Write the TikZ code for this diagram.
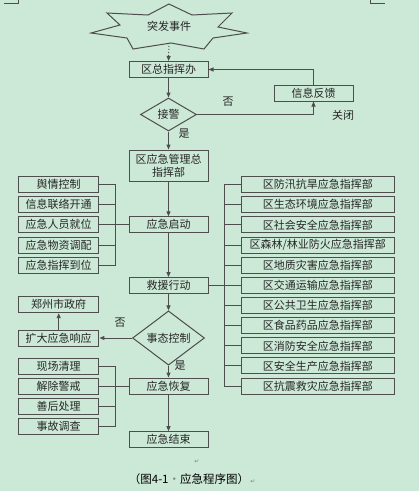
\documentclass[tikz,border=0pt]{standalone}
\usepackage{fontspec}
\setmainfont{Noto Sans CJK SC}
\newfontfamily\symfont{DejaVu Sans}
\usetikzlibrary{shapes.geometric,arrows.meta}
\definecolor{bg}{RGB}{204,232,214}
\definecolor{lc}{RGB}{78,78,78}
\begin{document}
\begin{tikzpicture}[x=1pt,y=-1pt,
  txt/.style={font=\fontsize{11}{13}\selectfont, text=black!85},
  box/.style={txt, draw=lc, line width=1pt, inner sep=0pt, minimum height=16pt},
  cbox/.style={box, minimum width=79pt},
  lbox/.style={box, minimum width=80.5pt},
  rbox/.style={box, minimum width=153pt},
  dia/.style={txt, draw=lc, line width=1pt, diamond, inner sep=0pt},
  conn/.style={draw=lc, line width=1pt},
  arr/.style={conn, -{Triangle[length=5pt,width=4pt]}},
  lab/.style={txt}
]
\useasboundingbox (0,0) rectangle (419,491);
\fill[bg] (0,0) rectangle (419,491);
% corner marks
\draw[lc, line width=0.6pt] (4,3) -- (18,3) -- (18,0);
\draw[lc, line width=0.6pt] (370,0) -- (370,3) -- (385,3);

% star
\draw[lc, line width=1pt] (169,4) -- (192,15) -- (232,13) -- (218,27) -- (247,33) -- (213,38) -- (204,49) -- (171,43) -- (133,49) -- (127,38) -- (91,33) -- (120,25) -- (107,13) -- (148,15) -- cycle;
\node[txt] (ev) at (169,26) {突发事件};
\coordinate (starb) at (169,43);

% central column
\node[cbox] (zb) at (168.5,69.5) {区总指挥办};
\node[dia, minimum width=56pt, minimum height=33pt] (jj) at (168.5,114.5) {接警};
\node[cbox, minimum width=79pt] (fk) at (313.5,93) {信息反馈};
\node[cbox, minimum height=31pt, align=center] (zhb) at (168.5,165.5) {区应急管理总\\指挥部};
\node[cbox] (qd) at (168.5,224.8) {应急启动};
\node[cbox] (jy) at (168.5,285.6) {救援行动};
\node[dia, minimum width=72pt, minimum height=34pt] (sk) at (168.5,338) {事态控制};
\node[cbox] (hf) at (168.5,386) {应急恢复};
\node[cbox] (js) at (168.5,439.7) {应急结束};

% left boxes (start)
\node[lbox] (L1) at (58.7,184.5) {舆情控制};
\node[lbox] (L2) at (58.7,204.6) {信息联络开通};
\node[lbox] (L3) at (58.7,224.8) {应急人员就位};
\node[lbox] (L4) at (58.7,245.1) {应急物资调配};
\node[lbox] (L5) at (58.7,265.5) {应急指挥到位};
\node[lbox] (zz) at (58.7,304.7) {郑州市政府};
\node[lbox] (kd) at (58.7,338) {扩大应急响应};
\node[lbox] (M1) at (58.7,366) {现场清理};
\node[lbox] (M2) at (58.7,386) {解除警戒};
\node[lbox] (M3) at (58.7,406) {善后处理};
\node[lbox] (M4) at (58.7,426) {事故调查};

% right boxes
\node[rbox] (R1) at (317.8,184.3) {区防汛抗旱应急指挥部};
\node[rbox] (R2) at (317.8,204.5) {区生态环境应急指挥部};
\node[rbox] (R3) at (317.8,224.8) {区社会安全应急指挥部};
\node[rbox] (R4) at (317.8,245.0) {区森林/林业防火应急指挥部};
\node[rbox] (R5) at (317.8,265.3) {区地质灾害应急指挥部};
\node[rbox] (R6) at (317.8,285.6) {区交通运输应急指挥部};
\node[rbox] (R7) at (317.8,305.5) {区公共卫生应急指挥部};
\node[rbox] (R8) at (317.8,325.7) {区食品药品应急指挥部};
\node[rbox] (R9) at (317.8,345.8) {区消防安全应急指挥部};
\node[rbox] (R10) at (317.8,365.8) {区安全生产应急指挥部};
\node[rbox] (R11) at (317.8,386) {区抗震救灾应急指挥部};

% labels
\node[lab] (n1) at (228,102) {否};
\node[lab] (c1) at (343,115) {关闭};
\node[lab] (y1) at (184,134) {是};
\node[lab] (n2) at (120,322.7) {否};
\node[lab] (y2) at (180,365.7) {是};

% connectors
\draw[arr, dotted] (starb) -- (zb.north);
\draw[arr] (zb) -- (jj);
\draw[arr] (jj.east) -| (fk.south);
\draw[arr] (fk.north) |- (zb.east);
\draw[arr] (jj) -- (zhb);
\draw[arr] (zhb) -- (qd);
\draw[arr] (qd) -- (jy);
\draw[arr] (jy) -- (sk);
\draw[arr] (sk.west) -- (kd.east);
\draw[arr] (kd) -- (zz);
\draw[arr] (sk) -- (hf);
\draw[arr] (hf) -- (js);

% left bracket (start)
\coordinate (lt) at (115.7,224.8);
\foreach \n in {L1,L2,L3,L4,L5} \draw[conn] (\n.east) -- (lt |- \n.east);
\draw[conn] (lt |- L1.east) -- (lt |- L5.east);
\draw[conn] (lt) -- (qd.west);

% left bracket (recovery)
\coordinate (lr) at (115.7,386);
\foreach \n in {M1,M2,M3,M4} \draw[conn] (\n.east) -- (lr |- \n.east);
\draw[conn] (lr |- M1.east) -- (lr |- M4.east);
\draw[conn] (lr) -- (hf.west);

% right trunk
\coordinate (rt) at (224.3,285.6);
\draw[conn] (jy.east) -- (rt);
\foreach \n in {R1,R2,R3,R4,R5,R6,R7,R8,R9,R10,R11} \draw[conn] (rt |- \n.west) -- (\n.west);
\draw[conn] (rt |- R1.west) -- (rt |- R11.west);

% caption
\node[font=\fontsize{11.5}{13}\selectfont] (cap) at (189,479) {（图4-1{\color{gray}·}应急程序图）};
\node[font=\symfont\fontsize{6}{6}\selectfont, text=gray] (p1) at (197,461.5) {↵};
\node[font=\symfont\fontsize{6}{6}\selectfont, text=gray] (p2) at (253,482) {↵};
\end{tikzpicture}
\end{document}
